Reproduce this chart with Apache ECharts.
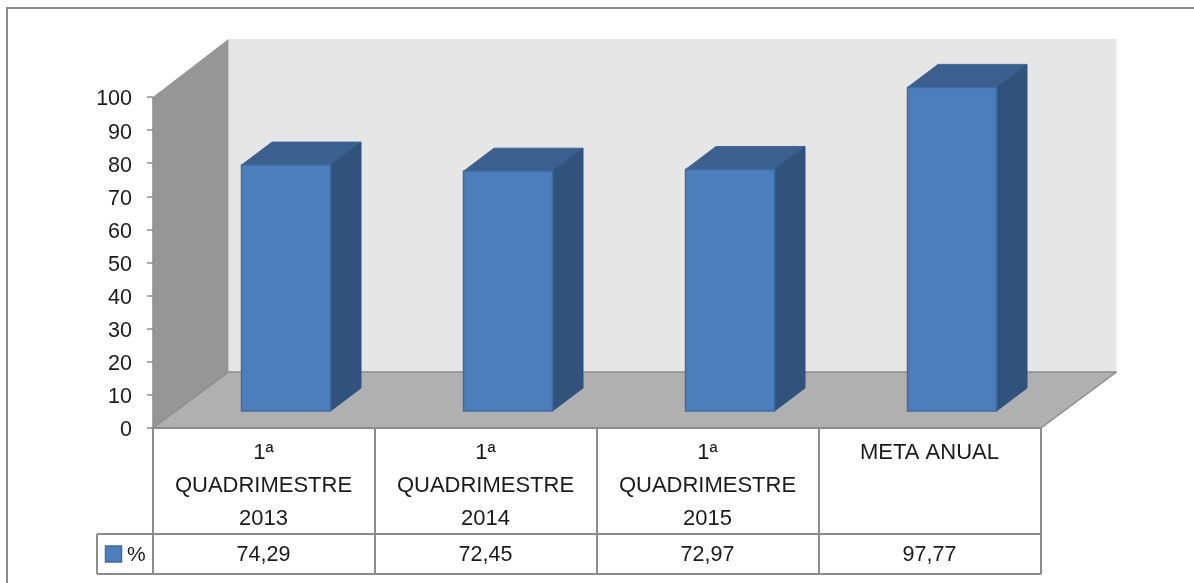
<!DOCTYPE html>
<html><head><meta charset="utf-8">
<style>html,body{margin:0;padding:0;background:#fff}#c{width:1194px;height:583px}</style>
<script src="https://cdn.jsdelivr.net/npm/echarts@6/dist/echarts.min.js"></script>
</head><body><div id="c"></div>
<script>
const categories = ['1ª\nQUADRIMESTRE\n2013', '1ª\nQUADRIMESTRE\n2014', '1ª\nQUADRIMESTRE\n2015', 'META ANUAL'];
const values = [74.29, 72.45, 72.97, 97.77];
const yTicks = [0, 10, 20, 30, 40, 50, 60, 70, 80, 90, 100];
const seriesName = '%';

const FONT = '"Liberation Sans"';
const TXT = '#1a1a1a';
const LINE = '#8c8c8c';
const G = {left: 153, top: 97, width: 888, height: 331};
const DEPTH = {dx: 75.5, dyTop: 58, dyFloor: 56};
const BAR = {half: 44.5, shift: 22, lift: 17, dx: 30.5, dy: 23};
const TABLE = {row1: 106, row2: 40, legendLeft: 97};

const chart = echarts.init(document.getElementById('c'), null, {renderer: 'canvas'});

function poly(pts, fill, stroke, lw, z) {
  return {type: 'polygon', z2: z || 0, shape: {points: pts},
    style: {fill: fill, stroke: stroke || null, lineWidth: lw || 0}};
}
function seg(x1, y1, x2, y2, lw) {
  return {type: 'line', z2: 2, shape: {x1, y1, x2, y2}, style: {stroke: LINE, lineWidth: lw || 2, fill: null}};
}

// Walls and floor, located from the value axis.
function renderWalls(params, api) {
  if (params.dataIndex !== 0) return null;
  const cs = params.coordSys;
  const x0 = cs.x, x1 = cs.x + cs.width;
  const y0 = api.coord([0, 0])[1], y100 = api.coord([0, 100])[1];
  const bx = x0 + DEPTH.dx, rx = x1 + DEPTH.dx, by = y0 - DEPTH.dyFloor, ty = y100 - DEPTH.dyTop;
  return {type: 'group', children: [
    poly([[bx, ty], [rx, ty], [rx, by], [bx, by]], '#e6e6e6'),
    poly([[x0, y100], [bx, ty], [bx, by], [x0, y0]], '#969696'),
    poly([[x0, y0], [bx, by], [rx, by], [x1, y0]], '#b0b0b0'),
    seg(bx, by, rx, by, 1.5), seg(x0, y0, bx, by, 1.5), seg(x1, y0, rx, by, 1.5),
    seg(x0, y100, x0, y0, 1.5)
  ]};
}

// 3D boxes: each is positioned from the bar's value through the axes.
function renderBar(params, api) {
  const p = api.coord([api.value(0), api.value(1)]);
  const b = api.coord([api.value(0), 0]);
  const cx = p[0] + BAR.shift;
  const l = cx - BAR.half, r = cx + BAR.half;
  const top = p[1] - BAR.lift, base = b[1] - BAR.lift;
  const dx = BAR.dx, dy = BAR.dy;
  return {type: 'group', children: [
    poly([[l, top], [l + dx, top - dy], [r + dx, top - dy], [r, top]], '#3b608f', '#3f6797', 1),
    poly([[r, top], [r + dx, top - dy], [r + dx, base - dy], [r, base]], '#30527b', '#30527b', 1),
    poly([[l, top], [r, top], [r, base], [l, base]], '#4d7ebc', '#3f6ba3', 1.5)
  ]};
}

// Data table under the plot: grid lines, category names and values.
function renderTable(params, api) {
  const cs = params.coordSys;
  const x0 = cs.x, y0 = cs.y + cs.height;
  const i = api.value(0);
  const w = cs.width / categories.length;
  const left = x0 + i * w, right = left + w;
  const yA = y0 + TABLE.row1, yB = yA + TABLE.row2;
  const children = [
    seg(right, y0, right, yB),
    seg(left, y0, right, y0),
    seg(left, yA, right, yA),
    seg(left, yB, right, yB),
    {type: 'text', z2: 3, style: {x: left + w / 2 - 0.5, y: y0 + 8, text: categories[i], fill: TXT,
      font: '22px ' + FONT, align: 'center', verticalAlign: 'top', lineHeight: 33}},
    {type: 'text', z2: 3, style: {x: left + w / 2 - 0.5, y: yA + TABLE.row2 / 2 + 1,
      text: api.value(1).toFixed(2).replace('.', ','), fill: TXT,
      font: '21.5px ' + FONT, align: 'center', verticalAlign: 'middle'}}
  ];
  if (i === 0) {
    children.push(
      seg(x0, y0, x0, yB),
      seg(TABLE.legendLeft, yA, x0, yA),
      seg(TABLE.legendLeft, yB, x0, yB),
      seg(TABLE.legendLeft, yA, TABLE.legendLeft, yB),
      {type: 'rect', z2: 3, shape: {x: TABLE.legendLeft + 8.5, y: yA + 12, width: 16, height: 16},
        style: {fill: '#4d7ebc', stroke: '#3f6ba3', lineWidth: 1.5}},
      {type: 'text', z2: 3, style: {x: TABLE.legendLeft + 30, y: yA + TABLE.row2 / 2 + 1, text: seriesName,
        fill: TXT, font: '21px ' + FONT, align: 'left', verticalAlign: 'middle'}}
    );
  }
  return {type: 'group', children};
}

const rows = values.map((v, i) => [i, v]);
chart.setOption({
  animation: false,
  backgroundColor: '#ffffff',
  grid: {left: G.left, top: G.top, width: G.width, height: G.height},
  xAxis: {type: 'category', data: categories, axisLabel: {show: false}, axisTick: {show: false}, axisLine: {show: false}, splitLine: {show: false}},
  yAxis: {type: 'value', min: yTicks[0], max: yTicks[yTicks.length - 1], interval: yTicks[1] - yTicks[0],
    axisLine: {show: false}, splitLine: {show: false},
    axisTick: {show: true, length: 6, lineStyle: {color: LINE, width: 1.5}},
    axisLabel: {color: TXT, fontFamily: FONT, fontSize: 21.5, margin: 21, formatter: '{n|{value}}',
      rich: {n: {color: TXT, fontFamily: FONT, fontSize: 21.5, padding: [5, 0, 0, 0]}}}},
  graphic: [{type: 'rect', silent: true, z: -1, shape: {x: 7, y: 8, width: 1190, height: 600},
    style: {fill: 'none', stroke: '#8c8c8c', lineWidth: 2}}],
  series: [
    {type: 'custom', name: 'walls', renderItem: renderWalls, data: rows, z: 1, silent: true, clip: false},
    {type: 'custom', name: seriesName, renderItem: renderBar, data: rows, z: 2, silent: true, clip: false},
    {type: 'custom', name: 'table', renderItem: renderTable, data: rows, z: 3, silent: true, clip: false}
  ]
});
</script></body></html>
